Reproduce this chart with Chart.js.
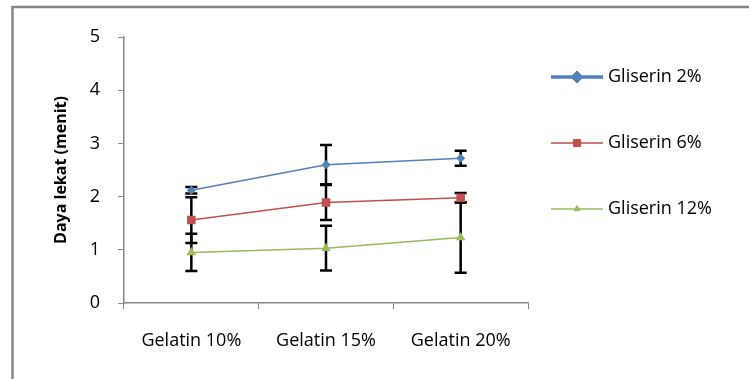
<!DOCTYPE html>
<html>
<head>
<meta charset="utf-8">
<script src="https://cdn.jsdelivr.net/npm/chart.js@4/dist/chart.umd.min.js"></script>
<style>
  html, body { margin: 0; padding: 0; background: #fff; }
  #wrap { width: 749px; height: 379px; }
</style>
</head>
<body>
<div id="wrap"><canvas id="lekatChart" width="749" height="379"></canvas></div>
<script>
// Data
var categories = ['Gelatin 10%', 'Gelatin 15%', 'Gelatin 20%'];
var seriesNames = ['Gliserin 2%', 'Gliserin 6%', 'Gliserin 12%'];
var gliserin2 = [2.12, 2.60, 2.72];
var gliserin6 = [1.56, 1.89, 1.98];
var gliserin12 = [0.95, 1.03, 1.23];
var err2 = [0.06, 0.37, 0.14];
var err6 = [0.43, 0.33, 0.09];
var err12 = [0.35, 0.42, 0.66];
var yTicks = [0, 1, 2, 3, 4, 5];

var fontFamily = "'Open Sans', 'Noto Sans', sans-serif";
var axisGray = '#868686';

// Frame around the chart (left and top edges only are visible)
var framePlugin = {
    id: 'frame',
    beforeDraw: function(chart) {
        var ctx = chart.ctx;
        ctx.save();
        ctx.fillStyle = '#fff';
        ctx.fillRect(0, 0, chart.width, chart.height);
        ctx.strokeStyle = axisGray;
        ctx.lineWidth = 2.5;
        ctx.beginPath();
        ctx.moveTo(12.5, chart.height);
        ctx.lineTo(12.5, 7);
        ctx.lineTo(chart.width, 7);
        ctx.stroke();
        ctx.restore();
    }
};

// Error bars, drawn under the markers
var errorBarPlugin = {
    id: 'errorBars',
    beforeDatasetsDraw: function(chart) {
        var ctx = chart.ctx;
        var yScale = chart.scales.y;
        ctx.save();
        ctx.strokeStyle = '#000';
        ctx.lineWidth = 2.5;
        chart.data.datasets.forEach(function(ds, i) {
            var meta = chart.getDatasetMeta(i);
            meta.data.forEach(function(pt, j) {
                var v = ds.data[j], e = ds.errors[j];
                var top = yScale.getPixelForValue(v + e);
                var bot = yScale.getPixelForValue(v - e);
                ctx.beginPath();
                ctx.moveTo(pt.x, top);
                ctx.lineTo(pt.x, bot);
                ctx.moveTo(pt.x - 6, top);
                ctx.lineTo(pt.x + 6, top);
                ctx.moveTo(pt.x - 6, bot);
                ctx.lineTo(pt.x + 6, bot);
                ctx.stroke();
            });
        });
        ctx.restore();
    }
};

// Excel-like legend on the right: line sample + marker + text
var legendPlugin = {
    id: 'sideLegend',
    afterDraw: function(chart) {
        var ctx = chart.ctx;
        var rows = [77, 143, 209];
        ctx.save();
        chart.data.datasets.forEach(function(ds, i) {
            var y = rows[i];
            ctx.strokeStyle = ds.borderColor;
            ctx.lineWidth = ds.legendLineWidth;
            ctx.beginPath();
            ctx.moveTo(551, y);
            ctx.lineTo(603, y);
            ctx.stroke();
            ctx.fillStyle = ds.backgroundColor;
            ctx.strokeStyle = ds.borderColor;
            ctx.lineWidth = 1;
            Chart.helpers.drawPoint(ctx, {
                pointStyle: ds.pointStyle,
                radius: ds.legendPointRadius,
                borderWidth: 1
            }, 577, y);
            ctx.fillStyle = '#000';
            ctx.font = '18px ' + fontFamily;
            ctx.textBaseline = 'middle';
            ctx.textAlign = 'left';
            ctx.fillText(ds.label, 608, y);
        });
        ctx.restore();
    }
};

var ctx = document.getElementById('lekatChart').getContext('2d');
var lekatChart = new Chart(ctx, {
    type: 'line',
    data: {
        labels: categories,
        datasets: [{
            label: seriesNames[0],
            data: gliserin2,
            errors: err2,
            borderColor: '#4F81BD',
            backgroundColor: '#4F81BD',
            borderWidth: 1.5,
            pointStyle: 'rectRot',
            pointRadius: 3.5,
            legendPointRadius: 6,
            legendLineWidth: 3.5,
            tension: 0
        }, {
            label: seriesNames[1],
            data: gliserin6,
            errors: err6,
            borderColor: '#C0504D',
            backgroundColor: '#C0504D',
            borderWidth: 1.5,
            pointStyle: 'rect',
            pointRadius: 5,
            legendPointRadius: 5,
            legendLineWidth: 1.5,
            tension: 0
        }, {
            label: seriesNames[2],
            data: gliserin12,
            errors: err12,
            borderColor: '#9BBB59',
            backgroundColor: '#9BBB59',
            borderWidth: 1.5,
            pointStyle: 'triangle',
            pointRadius: 4,
            legendPointRadius: 3.5,
            legendLineWidth: 1.5,
            tension: 0
        }]
    },
    options: {
        responsive: false,
        animation: false,
        layout: {
            padding: { left: 0, top: 37, right: 221, bottom: 0 }
        },
        scales: {
            x: {
                offset: true,
                grid: {
                    offset: true,
                    drawOnChartArea: false,
                    tickLength: 6,
                    color: axisGray
                },
                border: { color: axisGray, width: 1.5 },
                ticks: {
                    color: '#000',
                    padding: 21,
                    font: { family: fontFamily, size: 18 }
                },
                afterFit: function(scale) { scale.height = 76; }
            },
            y: {
                min: 0,
                max: 5,
                afterBuildTicks: function(scale) {
                    scale.ticks = yTicks.map(function(v) { return { value: v }; });
                },
                grid: {
                    drawOnChartArea: false,
                    tickLength: 6,
                    color: axisGray
                },
                border: { color: axisGray, width: 1.5 },
                ticks: {
                    color: '#000',
                    padding: 18,
                    font: { family: fontFamily, size: 18 }
                },
                title: {
                    display: true,
                    text: 'Daya lekat (menit)',
                    color: '#000',
                    padding: { top: 52, bottom: 0 },
                    font: { family: fontFamily, size: 16, weight: 'bold' }
                },
                afterFit: function(scale) { scale.width = 124; }
            }
        },
        plugins: {
            legend: { display: false },
            tooltip: { enabled: false }
        }
    },
    plugins: [framePlugin, errorBarPlugin, legendPlugin]
});
</script>
</body>
</html>
